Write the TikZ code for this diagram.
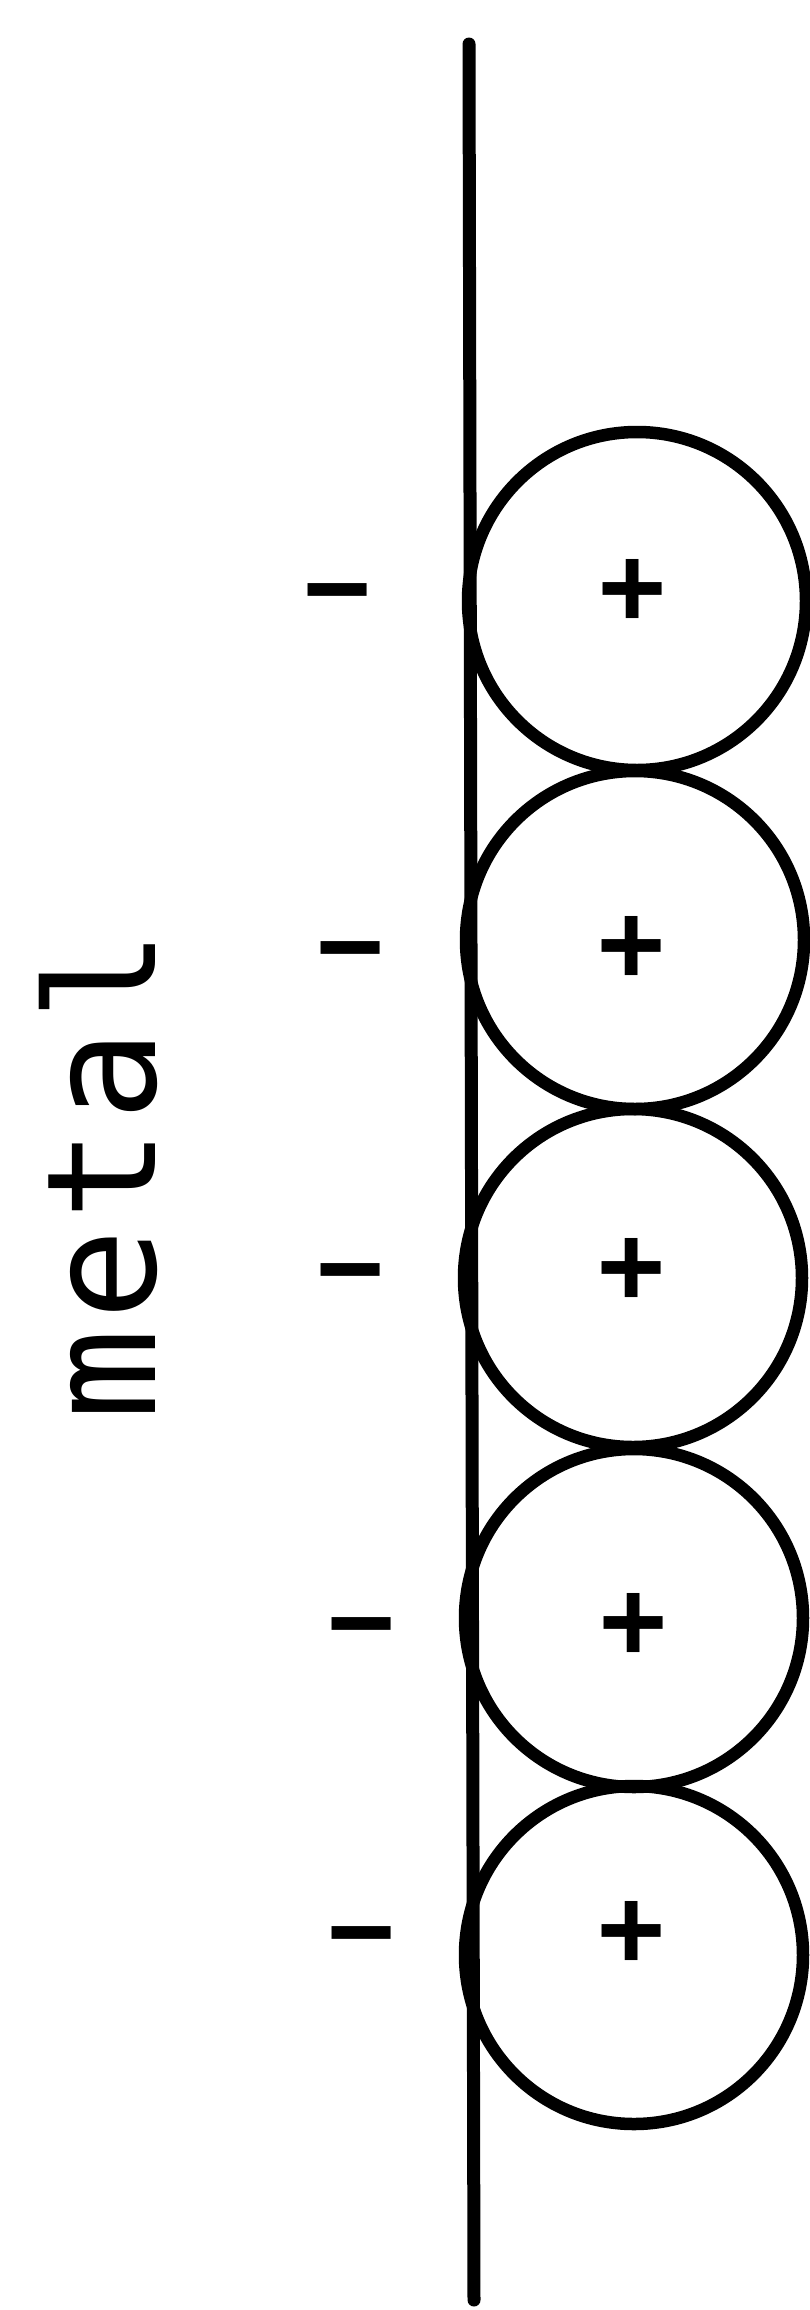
\documentclass[tikz,border=0pt]{standalone}
\usepackage{fontspec}
\newfontfamily\metalfont[LetterSpace=5.5]{DejaVu Sans Mono}
\newfontfamily\signfont{DejaVu Sans Mono Bold}
\begin{document}
\begin{tikzpicture}[x=1pt,y=-1pt,
  ink/.style={line width=12.5pt},
  ion/.style={circle, draw, ink, minimum size=338pt, inner sep=0pt},
  sign/.style={font=\signfont\fontsize{110}{110}\selectfont, anchor=base, inner sep=0pt, yshift=-36pt},
  label/.style={font=\metalfont\fontsize{152}{152}\selectfont, anchor=base, rotate=90, inner sep=0pt}]
\useasboundingbox (0,0) rectangle (810,2310);
\coordinate (top) at (469,44);
\coordinate (bot) at (474,2300);
\draw[line width=13pt, line cap=round] (top) -- (bot);
\node[ion] (c1) at (637,601) {};
\node[ion] (c2) at (635,940) {};
\node[ion] (c3) at (633,1278) {};
\node[ion] (c4) at (634,1618) {};
\node[ion] (c5) at (634,1955) {};
\node[sign] (p1) at (633,587) {+};
\node[sign] (p2) at (632,944) {+};
\node[sign] (p3) at (632,1266) {+};
\node[sign] (p4) at (634,1621) {+};
\node[sign] (p5) at (632,1929) {+};
\node[sign] (m1) at (338,588) {−};
\node[sign] (m2) at (351,946) {−};
\node[sign] (m3) at (351,1268) {−};
\node[sign] (m4) at (362,1622) {−};
\node[sign] (m5) at (362,1931) {−};
\node[label] (metal) at (155,1175) {metal};
\end{tikzpicture}
\end{document}
